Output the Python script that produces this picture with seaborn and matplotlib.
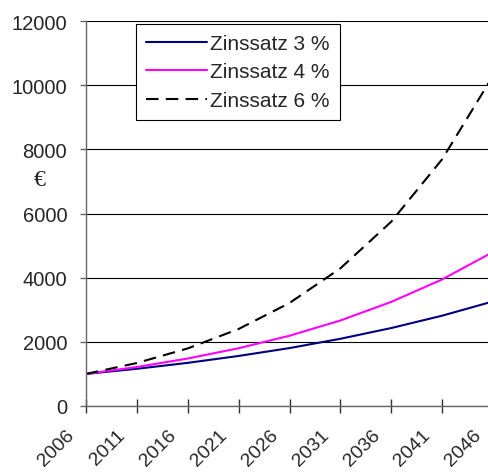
import pandas as pd
import seaborn as sns
import matplotlib.pyplot as plt
from matplotlib.transforms import ScaledTranslation

# values (capital in euro, every 5 years)
years = [2006, 2011, 2016, 2021, 2026, 2031, 2036, 2041, 2046]
rate_3 = [1000, 1160, 1345, 1560, 1805, 2095, 2430, 2815, 3260]
rate_4 = [1000, 1215, 1480, 1800, 2190, 2665, 3245, 3945, 4800]
rate_6 = [1000, 1340, 1795, 2400, 3210, 4290, 5745, 7690, 10290]
labels = ['Zinssatz 3 %', 'Zinssatz 4 %', 'Zinssatz 6 %']

df = pd.DataFrame({'Jahr': years, labels[0]: rate_3, labels[1]: rate_4, labels[2]: rate_6})
df = df.melt(id_vars='Jahr', var_name='Reihe', value_name='Euro')

sns.set_style('white')
plt.rcParams['font.family'] = ['Liberation Sans', 'DejaVu Sans']

fig = plt.figure(figsize=(4.89, 4.77), dpi=100)
# axes runs a little past the right edge, like the cropped original
ax = fig.add_axes([86 / 489, 70 / 477, 407 / 489, 385 / 477])

sns.lineplot(data=df, x='Jahr', y='Euro', hue='Reihe', style='Reihe',
             palette={labels[0]: '#000080', labels[1]: '#FF00FF', labels[2]: 'black'},
             dashes={labels[0]: '', labels[1]: '', labels[2]: (6, 3.5)},
             linewidth=1.5, ax=ax)

ax.set_xlim(2006, 2046)
ax.set_ylim(0, 12000)
ax.set_xticks(years)
ax.set_yticks(range(0, 12001, 2000))
ax.yaxis.grid(True, color='black', linewidth=0.8)
ax.set_axisbelow(True)
ax.set_xlabel('')
ax.set_ylabel('')

for side in ['top', 'right']:
    ax.spines[side].set_visible(False)
for side in ['left', 'bottom']:
    ax.spines[side].set_color('#666666')
    ax.spines[side].set_linewidth(1.0)

ax.tick_params(axis='y', direction='out', length=4.5, width=1, color='#666666',
               labelsize=14.5, pad=9, left=True)
ax.tick_params(axis='x', direction='inout', length=10, width=1, color='#333333',
               labelsize=14, pad=14, bottom=True)
shift = ScaledTranslation(-14 / 100, 0, fig.dpi_scale_trans)
for lab in ax.get_xticklabels():
    lab.set_rotation(45)
    lab.set_ha('right')
    lab.set_va('center')
    lab.set_rotation_mode('anchor')
    lab.set_transform(lab.get_transform() + shift)

fig.text(40 / 489, 1 - 181 / 477, '€', family='Liberation Serif', fontsize=17,
         ha='center', va='center')

leg = ax.legend(loc='upper left', bbox_to_anchor=(0.123, 0.993), borderaxespad=0,
                fontsize=15, frameon=True, fancybox=False, handlelength=2.9,
                handletextpad=0.15, labelspacing=0.45, borderpad=0.5)
leg.get_frame().set_edgecolor('black')
leg.get_frame().set_linewidth(0.8)
leg.get_frame().set_alpha(1)

fig.savefig('out.png', dpi=100)
